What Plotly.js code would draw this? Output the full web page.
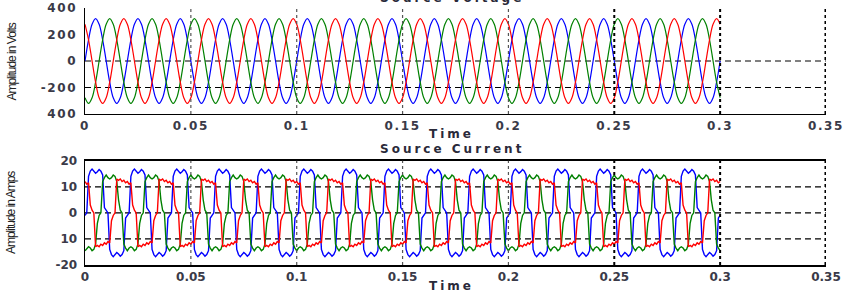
<!DOCTYPE html>
<html>
<head>
<meta charset="utf-8">
<script src="https://cdn.plot.ly/plotly-3.0.1.min.js"></script>
<style>
  html, body { margin: 0; padding: 0; background: #fff; }
  #chart { width: 857px; height: 296px; }
  .xtick text, .ytick text { letter-spacing: 1.6px; }
</style>
</head>
<body>
<div id="chart"></div>
<script>
// ---- time sampling (uniform) ----
const tStartV = 0;
const tStepV = 1 / 600;    // voltage samples every 1/600 s
const tStartI = 0;
const tStepI = 1 / 1200;   // current samples every 1/1200 s

// ---- Source Voltage (V), phases ----
const vBlue = [
0,160,277,320,277,160,0,-160,-277,-320,-277,-160,
0,160,277,320,277,160,0,-160,-277,-320,-277,-160,
0,160,277,320,277,160,0,-160,-277,-320,-277,-160,
0,160,277,320,277,160,0,-160,-277,-320,-277,-160,
0,160,277,320,277,160,0,-160,-277,-320,-277,-160,
0,160,277,320,277,160,0,-160,-277,-320,-277,-160,
0,160,277,320,277,160,0,-160,-277,-320,-277,-160,
0,160,277,320,277,160,0,-160,-277,-320,-277,-160,
0,160,277,320,277,160,0,-160,-277,-320,-277,-160,
0,160,277,320,277,160,0,-160,-277,-320,-277,-160,
0,160,277,320,277,160,0,-160,-277,-320,-277,-160,
0,160,277,320,277,160,0,-160,-277,-320,-277,-160,
0,160,277,320,277,160,0,-160,-277,-320,-277,-160,
0,160,277,320,277,160,0,-160,-277,-320,-277,-160,
0,160,277,320,277,160,0,-160,-277,-320,-277,-160,
0];
const vGreen = [
-277,-320,-277,-160,0,160,277,320,277,160,0,-160,
-277,-320,-277,-160,0,160,277,320,277,160,0,-160,
-277,-320,-277,-160,0,160,277,320,277,160,0,-160,
-277,-320,-277,-160,0,160,277,320,277,160,0,-160,
-277,-320,-277,-160,0,160,277,320,277,160,0,-160,
-277,-320,-277,-160,0,160,277,320,277,160,0,-160,
-277,-320,-277,-160,0,160,277,320,277,160,0,-160,
-277,-320,-277,-160,0,160,277,320,277,160,0,-160,
-277,-320,-277,-160,0,160,277,320,277,160,0,-160,
-277,-320,-277,-160,0,160,277,320,277,160,0,-160,
-277,-320,-277,-160,0,160,277,320,277,160,0,-160,
-277,-320,-277,-160,0,160,277,320,277,160,0,-160,
-277,-320,-277,-160,0,160,277,320,277,160,0,-160,
-277,-320,-277,-160,0,160,277,320,277,160,0,-160,
-277,-320,-277,-160,0,160,277,320,277,160,0,-160,
-277];
const vRed = [
277,160,0,-160,-277,-320,-277,-160,0,160,277,320,
277,160,0,-160,-277,-320,-277,-160,0,160,277,320,
277,160,0,-160,-277,-320,-277,-160,0,160,277,320,
277,160,0,-160,-277,-320,-277,-160,0,160,277,320,
277,160,0,-160,-277,-320,-277,-160,0,160,277,320,
277,160,0,-160,-277,-320,-277,-160,0,160,277,320,
277,160,0,-160,-277,-320,-277,-160,0,160,277,320,
277,160,0,-160,-277,-320,-277,-160,0,160,277,320,
277,160,0,-160,-277,-320,-277,-160,0,160,277,320,
277,160,0,-160,-277,-320,-277,-160,0,160,277,320,
277,160,0,-160,-277,-320,-277,-160,0,160,277,320,
277,160,0,-160,-277,-320,-277,-160,0,160,277,320,
277,160,0,-160,-277,-320,-277,-160,0,160,277,320,
277,160,0,-160,-277,-320,-277,-160,0,160,277,320,
277,160,0,-160,-277,-320,-277,-160,0,160,277,320,
277];

// ---- Source Current (A), phases ----
const iBlue = [
-1,0,14,16,16.8,15.8,15.2,15.8,16.6,16,14.5,2,1,0,-14,-16,-16.8,-15.8,-15.2,-15.8,-16.6,-16,-14.5,-2,
-1,0,14,16,16.8,15.8,15.2,15.8,16.6,16,14.5,2,1,0,-14,-16,-16.8,-15.8,-15.2,-15.8,-16.6,-16,-14.5,-2,
-1,0,14,16,16.8,15.8,15.2,15.8,16.6,16,14.5,2,1,0,-14,-16,-16.8,-15.8,-15.2,-15.8,-16.6,-16,-14.5,-2,
-1,0,14,16,16.8,15.8,15.2,15.8,16.6,16,14.5,2,1,0,-14,-16,-16.8,-15.8,-15.2,-15.8,-16.6,-16,-14.5,-2,
-1,0,14,16,16.8,15.8,15.2,15.8,16.6,16,14.5,2,1,0,-14,-16,-16.8,-15.8,-15.2,-15.8,-16.6,-16,-14.5,-2,
-1,0,14,16,16.8,15.8,15.2,15.8,16.6,16,14.5,2,1,0,-14,-16,-16.8,-15.8,-15.2,-15.8,-16.6,-16,-14.5,-2,
-1,0,14,16,16.8,15.8,15.2,15.8,16.6,16,14.5,2,1,0,-14,-16,-16.8,-15.8,-15.2,-15.8,-16.6,-16,-14.5,-2,
-1,0,14,16,16.8,15.8,15.2,15.8,16.6,16,14.5,2,1,0,-14,-16,-16.8,-15.8,-15.2,-15.8,-16.6,-16,-14.5,-2,
-1,0,14,16,16.8,15.8,15.2,15.8,16.6,16,14.5,2,1,0,-14,-16,-16.8,-15.8,-15.2,-15.8,-16.6,-16,-14.5,-2,
-1,0,14,16,16.8,15.8,15.2,15.8,16.6,16,14.5,2,1,0,-14,-16,-16.8,-15.8,-15.2,-15.8,-16.6,-16,-14.5,-2,
-1,0,14,16,16.8,15.8,15.2,15.8,16.6,16,14.5,2,1,0,-14,-16,-16.8,-15.8,-15.2,-15.8,-16.6,-16,-14.5,-2,
-1,0,14,16,16.8,15.8,15.2,15.8,16.6,16,14.5,2,1,0,-14,-16,-16.8,-15.8,-15.2,-15.8,-16.6,-16,-14.5,-2,
-1,0,14,16,16.8,15.8,15.2,15.8,16.6,16,14.5,2,1,0,-14,-16,-16.8,-15.8,-15.2,-15.8,-16.6,-16,-14.5,-2,
-1,0,14,16,16.8,15.8,15.2,15.8,16.6,16,14.5,2,1,0,-14,-16,-16.8,-15.8,-15.2,-15.8,-16.6,-16,-14.5,-2,
-1,0,14,16,16.8,15.8,15.2,15.8,16.6,16,14.5,2,1,0,-14,-16,-16.8,-15.8,-15.2,-15.8,-16.6,-16,-14.5,-2,
-1];
const iGreen = [
-14.5,-13.5,-13,-13.5,-14.5,-14,-12,-4,-1,0,12,13.5,14.5,13.5,13,13.5,14.5,14,12,5,1,0,-12,-13.5,
-14.5,-13.5,-13,-13.5,-14.5,-14,-12,-4,-1,0,12,13.5,14.5,13.5,13,13.5,14.5,14,12,5,1,0,-12,-13.5,
-14.5,-13.5,-13,-13.5,-14.5,-14,-12,-4,-1,0,12,13.5,14.5,13.5,13,13.5,14.5,14,12,5,1,0,-12,-13.5,
-14.5,-13.5,-13,-13.5,-14.5,-14,-12,-4,-1,0,12,13.5,14.5,13.5,13,13.5,14.5,14,12,5,1,0,-12,-13.5,
-14.5,-13.5,-13,-13.5,-14.5,-14,-12,-4,-1,0,12,13.5,14.5,13.5,13,13.5,14.5,14,12,5,1,0,-12,-13.5,
-14.5,-13.5,-13,-13.5,-14.5,-14,-12,-4,-1,0,12,13.5,14.5,13.5,13,13.5,14.5,14,12,5,1,0,-12,-13.5,
-14.5,-13.5,-13,-13.5,-14.5,-14,-12,-4,-1,0,12,13.5,14.5,13.5,13,13.5,14.5,14,12,5,1,0,-12,-13.5,
-14.5,-13.5,-13,-13.5,-14.5,-14,-12,-4,-1,0,12,13.5,14.5,13.5,13,13.5,14.5,14,12,5,1,0,-12,-13.5,
-14.5,-13.5,-13,-13.5,-14.5,-14,-12,-4,-1,0,12,13.5,14.5,13.5,13,13.5,14.5,14,12,5,1,0,-12,-13.5,
-14.5,-13.5,-13,-13.5,-14.5,-14,-12,-4,-1,0,12,13.5,14.5,13.5,13,13.5,14.5,14,12,5,1,0,-12,-13.5,
-14.5,-13.5,-13,-13.5,-14.5,-14,-12,-4,-1,0,12,13.5,14.5,13.5,13,13.5,14.5,14,12,5,1,0,-12,-13.5,
-14.5,-13.5,-13,-13.5,-14.5,-14,-12,-4,-1,0,12,13.5,14.5,13.5,13,13.5,14.5,14,12,5,1,0,-12,-13.5,
-14.5,-13.5,-13,-13.5,-14.5,-14,-12,-4,-1,0,12,13.5,14.5,13.5,13,13.5,14.5,14,12,5,1,0,-12,-13.5,
-14.5,-13.5,-13,-13.5,-14.5,-14,-12,-4,-1,0,12,13.5,14.5,13.5,13,13.5,14.5,14,12,5,1,0,-12,-13.5,
-14.5,-13.5,-13,-13.5,-14.5,-14,-12,-4,-1,0,12,13.5,14.5,13.5,13,13.5,14.5,14,12,5,1,0,-12,-13.5,
-14.5];
const iRed = [
12,11,11.5,3,1,0,-13,-12.5,-13,-12,-12.5,-11.5,-12,-11,-11.5,-3,-1,0,13,12.5,13,12,12.5,11.5,
12,11,11.5,3,1,0,-13,-12.5,-13,-12,-12.5,-11.5,-12,-11,-11.5,-3,-1,0,13,12.5,13,12,12.5,11.5,
12,11,11.5,3,1,0,-13,-12.5,-13,-12,-12.5,-11.5,-12,-11,-11.5,-3,-1,0,13,12.5,13,12,12.5,11.5,
12,11,11.5,3,1,0,-13,-12.5,-13,-12,-12.5,-11.5,-12,-11,-11.5,-3,-1,0,13,12.5,13,12,12.5,11.5,
12,11,11.5,3,1,0,-13,-12.5,-13,-12,-12.5,-11.5,-12,-11,-11.5,-3,-1,0,13,12.5,13,12,12.5,11.5,
12,11,11.5,3,1,0,-13,-12.5,-13,-12,-12.5,-11.5,-12,-11,-11.5,-3,-1,0,13,12.5,13,12,12.5,11.5,
12,11,11.5,3,1,0,-13,-12.5,-13,-12,-12.5,-11.5,-12,-11,-11.5,-3,-1,0,13,12.5,13,12,12.5,11.5,
12,11,11.5,3,1,0,-13,-12.5,-13,-12,-12.5,-11.5,-12,-11,-11.5,-3,-1,0,13,12.5,13,12,12.5,11.5,
12,11,11.5,3,1,0,-13,-12.5,-13,-12,-12.5,-11.5,-12,-11,-11.5,-3,-1,0,13,12.5,13,12,12.5,11.5,
12,11,11.5,3,1,0,-13,-12.5,-13,-12,-12.5,-11.5,-12,-11,-11.5,-3,-1,0,13,12.5,13,12,12.5,11.5,
12,11,11.5,3,1,0,-13,-12.5,-13,-12,-12.5,-11.5,-12,-11,-11.5,-3,-1,0,13,12.5,13,12,12.5,11.5,
12,11,11.5,3,1,0,-13,-12.5,-13,-12,-12.5,-11.5,-12,-11,-11.5,-3,-1,0,13,12.5,13,12,12.5,11.5,
12,11,11.5,3,1,0,-13,-12.5,-13,-12,-12.5,-11.5,-12,-11,-11.5,-3,-1,0,13,12.5,13,12,12.5,11.5,
12,11,11.5,3,1,0,-13,-12.5,-13,-12,-12.5,-11.5,-12,-11,-11.5,-3,-1,0,13,12.5,13,12,12.5,11.5,
12,11,11.5,3,1,0,-13,-12.5,-13,-12,-12.5,-11.5,-12,-11,-11.5,-3,-1,0,13,12.5,13,12,12.5,11.5,
12];

// ---- axis ticks ----
const xTickVals = [0, 0.05, 0.1, 0.15, 0.2, 0.25, 0.3, 0.35];
const xTickText = ['0', '0.05', '0.1', '0.15', '0.2', '0.25', '0.3', '0.35'];
const vTickVals = [400, 200, 0, -200, -400];
const vTickText = ['400', '200', '0', '-200', '400'];
const iTickVals = [20, 10, 0, -10, -20];
const iTickText = ['20', '10', '0', '10', '-20'];
const vGridVals = [0, -200];
const iGridVals = [10, 0, -10];

// ---- styling ----
const BLUE = '#0000ff', RED = '#ff0000', GREEN = '#008000';
const tickFont = { family: 'DejaVu Sans', size: 12, color: '#3a3a48', weight: 'bold' };

function trace(y, color, xa, ya, t0, dt, shape, w) {
  return { type: 'scatter', mode: 'lines', y: y, x0: t0, dx: dt,
    xaxis: xa, yaxis: ya, line: { color: color, width: w, shape: shape },
    hoverinfo: 'skip', showlegend: false };
}

const data = [
  trace(vBlue, BLUE, 'x', 'y', tStartV, tStepV, 'spline', 1.2),
  trace(vGreen, GREEN, 'x', 'y', tStartV, tStepV, 'spline', 1.2),
  trace(vRed, RED, 'x', 'y', tStartV, tStepV, 'spline', 1.2),
  trace(iBlue, BLUE, 'x2', 'y2', tStartI, tStepI, 'linear', 1.4),
  trace(iGreen, GREEN, 'x2', 'y2', tStartI, tStepI, 'linear', 1.4),
  trace(iRed, RED, 'x2', 'y2', tStartI, tStepI, 'linear', 1.4)
];

const shapes = [];
['y', 'y2'].forEach(function (ya) {
  const xa = ya === 'y' ? 'x' : 'x2';
  xTickVals.slice(1).forEach(function (v) {
    let col = '#555', w = 1.2;
    if (v >= 0.24) { col = '#000'; w = 2; }
    if (v >= 0.34) { col = '#000'; w = 3; }
    shapes.push({ type: 'line', xref: xa, yref: ya + ' domain', x0: v, x1: v, y0: 0, y1: 1,
      line: { color: col, width: w, dash: 'dot' }, layer: 'above' });
  });
  (ya === 'y' ? vGridVals : iGridVals).forEach(function (v) {
    shapes.push({ type: 'line', xref: xa + ' domain', yref: ya, x0: 0, x1: 1, y0: v, y1: v,
      line: { color: '#000', width: 1.2, dash: '6px,4px' }, layer: 'below' });
  });
});

function sp(txt, ls) { return '<span style="letter-spacing:' + ls + 'px">' + txt + '</span>'; }
const titleFont = { family: 'DejaVu Sans', size: 12, color: '#2a2a3a', weight: 'bold' };
const yTitleFont = { family: 'Liberation Sans', size: 12, color: '#222' };

const annotations = [
  { text: sp('Source Voltage', 3), x: 0.5274, y: 1.008, xref: 'paper', yref: 'paper', showarrow: false, font: titleFont, xanchor: 'center', yanchor: 'middle' },
  { text: sp('Time', 3), x: 0.5274, y: 0.5473, xref: 'paper', yref: 'paper', showarrow: false, font: titleFont, xanchor: 'center', yanchor: 'middle' },
  { text: sp('Source Current', 3), x: 0.5274, y: 0.4983, xref: 'paper', yref: 'paper', showarrow: false, font: titleFont, xanchor: 'center', yanchor: 'middle' },
  { text: sp('Time', 3), x: 0.5274, y: 0.0338, xref: 'paper', yref: 'paper', showarrow: false, font: titleFont, xanchor: 'center', yanchor: 'middle' },
  { text: sp('Amplitude in Volts', -1), x: 0.0135, y: 0.7905, xref: 'paper', yref: 'paper', showarrow: false, font: yTitleFont, textangle: -90, xanchor: 'center', yanchor: 'middle' },
  { text: sp('Amplitude in Amps', -1), x: 0.0135, y: 0.2821, xref: 'paper', yref: 'paper', showarrow: false, font: yTitleFont, textangle: -90, xanchor: 'center', yanchor: 'middle' }
];

const xCommon = { range: [0, 0.35], tickmode: 'array', tickvals: xTickVals, ticktext: xTickText,
  showgrid: false, zeroline: false, showline: true, linecolor: '#000', linewidth: 1.5,
  ticks: '', tickfont: tickFont, ticklabelstandoff: 0, domain: [0.0992, 0.9638], fixedrange: true };
const yCommon = { tickmode: 'array', showgrid: false, zeroline: false, showline: true,
  linecolor: '#000', linewidth: 1.5, ticks: '', tickfont: tickFont, ticklabelstandoff: 4, fixedrange: true };

const layout = {
  width: 857, height: 296,
  margin: { l: 0, r: 0, t: 0, b: 0 },
  paper_bgcolor: '#fff', plot_bgcolor: '#fff',
  showlegend: false,
  xaxis: Object.assign({}, xCommon, { anchor: 'y' }),
  yaxis: Object.assign({}, yCommon, { anchor: 'x', domain: [0.6149, 0.973], range: [-400, 400], tickvals: vTickVals, ticktext: vTickText }),
  xaxis2: Object.assign({}, xCommon, { anchor: 'y2', mirror: true }),
  yaxis2: Object.assign({}, yCommon, { anchor: 'x2', domain: [0.1047, 0.4571], range: [-20, 20], tickvals: iTickVals, ticktext: iTickText }),
  shapes: shapes,
  annotations: annotations
};

Plotly.newPlot('chart', data, layout, { displayModeBar: false, staticPlot: true });
</script>
</body>
</html>
